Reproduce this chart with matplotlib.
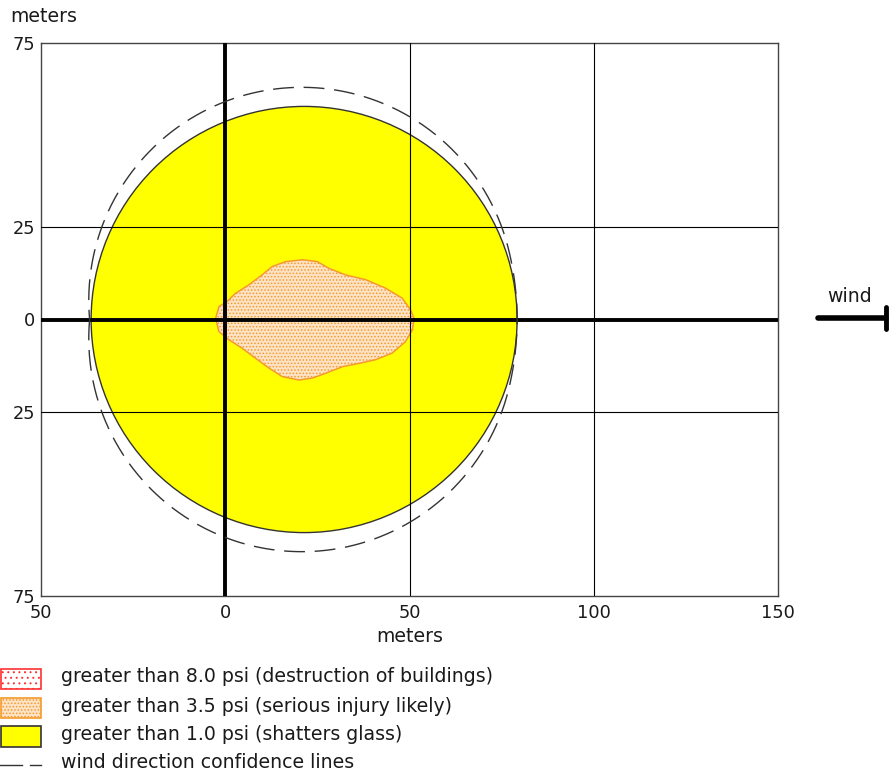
import numpy as np
import matplotlib
matplotlib.use("Agg")
import matplotlib.pyplot as plt
from matplotlib.patches import Circle, Polygon, Rectangle

# threat zone data (meters)
glass_center = (21.4, 0.0)   # > 1.0 psi zone centre
glass_radius = 57.8
wind_conf_angle = 14.0       # degrees, wind direction confidence

injury_x = [-2.6, -1.7, 0.5, 2.8, 6.4, 10.0, 12.8, 16.4, 20.9, 25.0, 28.1, 32.6,
            38.1, 43.5, 48.0, 50.3, 51.2, 50.8, 48.9, 45.3, 40.8, 36.3, 31.8,
            27.2, 23.6, 20.0, 15.5, 11.9, 8.2, 4.6, 1.0, -1.7]
injury_y = [0.3, 3.5, 4.9, 7.1, 9.4, 12.1, 14.4, 15.7, 16.2, 15.7, 13.9, 12.1,
            10.8, 8.5, 5.8, 2.6, 0.3, -2.8, -6.0, -9.1, -10.9, -11.9, -12.8,
            -14.6, -15.9, -16.4, -15.5, -13.2, -10.5, -7.8, -5.5, -3.3]

x_ticks = [-50, 0, 50, 100, 150]
y_ticks = [-75, -25, 0, 25, 75]
x_grid = [50, 100]
y_grid = [-25, 25]

legend_labels = [
    "greater than 8.0 psi (destruction of buildings)",
    "greater than 3.5 psi (serious injury likely)",
    "greater than 1.0 psi (shatters glass)",
    "wind direction confidence lines",
]

TXT = "#1a1a1a"
WORD_FS = 13.6
NUM_FS = 12.8
plt.rcParams["font.family"] = "DejaVu Sans"
plt.rcParams["hatch.linewidth"] = 0.7

fig = plt.figure(figsize=(8.89, 7.71), dpi=100)
ax = fig.add_axes([41 / 889, 175 / 771, 737 / 889, 553 / 771])
ax.set_xlim(-50, 150)
ax.set_ylim(-75, 75)

ax.add_patch(Circle(glass_center, glass_radius, facecolor="#ffff00",
                    edgecolor="#333333", lw=1.0, zorder=1))
ax.add_patch(Polygon(np.column_stack([injury_x, injury_y]), closed=True,
                     facecolor="#fde3c6", edgecolor="#f59a2c", hatch=".....",
                     lw=1.1, zorder=2))

for gx in x_grid:
    ax.axvline(gx, color="black", lw=0.8, zorder=3)
for gy in y_grid:
    ax.axhline(gy, color="black", lw=0.8, zorder=3)
ax.axvline(0, color="black", lw=2.8, zorder=3)
ax.axhline(0, color="black", lw=2.8, zorder=3)

# envelope of the glass zone swung about the source by +/- the confidence angle
d = glass_center[0]
a = np.radians(wind_conf_angle)
phi = np.linspace(-np.pi, np.pi, 721)
delta = np.clip(np.abs(phi) - a, 0, None)
rho = d * np.cos(delta) + np.sqrt(glass_radius ** 2 - (d * np.sin(delta)) ** 2)
ax.plot(rho * np.cos(phi), rho * np.sin(phi), color="#333333", lw=1.0,
        dashes=(15, 7), zorder=4)

ax.set_xticks(x_ticks)
ax.set_xticklabels([str(abs(v)) for v in x_ticks])
ax.set_yticks(y_ticks)
ax.set_yticklabels([str(abs(v)) for v in y_ticks])
ax.tick_params(length=0, labelsize=NUM_FS, labelcolor=TXT, pad=6)
ax.tick_params(axis="y", pad=4)
for s in ax.spines.values():
    s.set_color("#444444")
    s.set_linewidth(1.0)
ax.set_xlabel("meters", fontsize=WORD_FS, color=TXT, labelpad=3)

# overlay in pixel coordinates for the free-standing items
ov = fig.add_axes([0, 0, 1, 1], zorder=5)
ov.set_xlim(0, 889)
ov.set_ylim(771, 0)
ov.axis("off")
ov.patch.set_alpha(0)

ov.text(10, 16, "meters", fontsize=WORD_FS, color=TXT, va="center", ha="left")

ov.text(850, 297, "wind", fontsize=WORD_FS, color=TXT, ha="center", va="center")
ov.plot([818, 886], [318, 318], color="black", lw=4, solid_capstyle="round")
ov.plot([886, 886], [307, 329], color="black", lw=3.5, solid_capstyle="round")

ov.add_patch(Rectangle((1, 669), 40, 20, facecolor="white", edgecolor="#ff3030",
                       hatch="...", lw=1.2))
ov.add_patch(Rectangle((1, 698), 40, 20, facecolor="#fde3c6", edgecolor="#f59a2c",
                       hatch=".....", lw=1.2))
ov.add_patch(Rectangle((1, 726), 40, 21, facecolor="#ffff00", edgecolor="#333333",
                       lw=1.2))
ov.plot([0, 22], [765, 765], color="#333333", lw=1.0)
ov.plot([30, 41], [765, 765], color="#333333", lw=1.0)

for yy, lab in zip([677, 706, 735, 762], legend_labels):
    ov.text(61, yy, lab, fontsize=WORD_FS, color=TXT, va="center", ha="left")

fig.savefig("out.png", dpi=100)
